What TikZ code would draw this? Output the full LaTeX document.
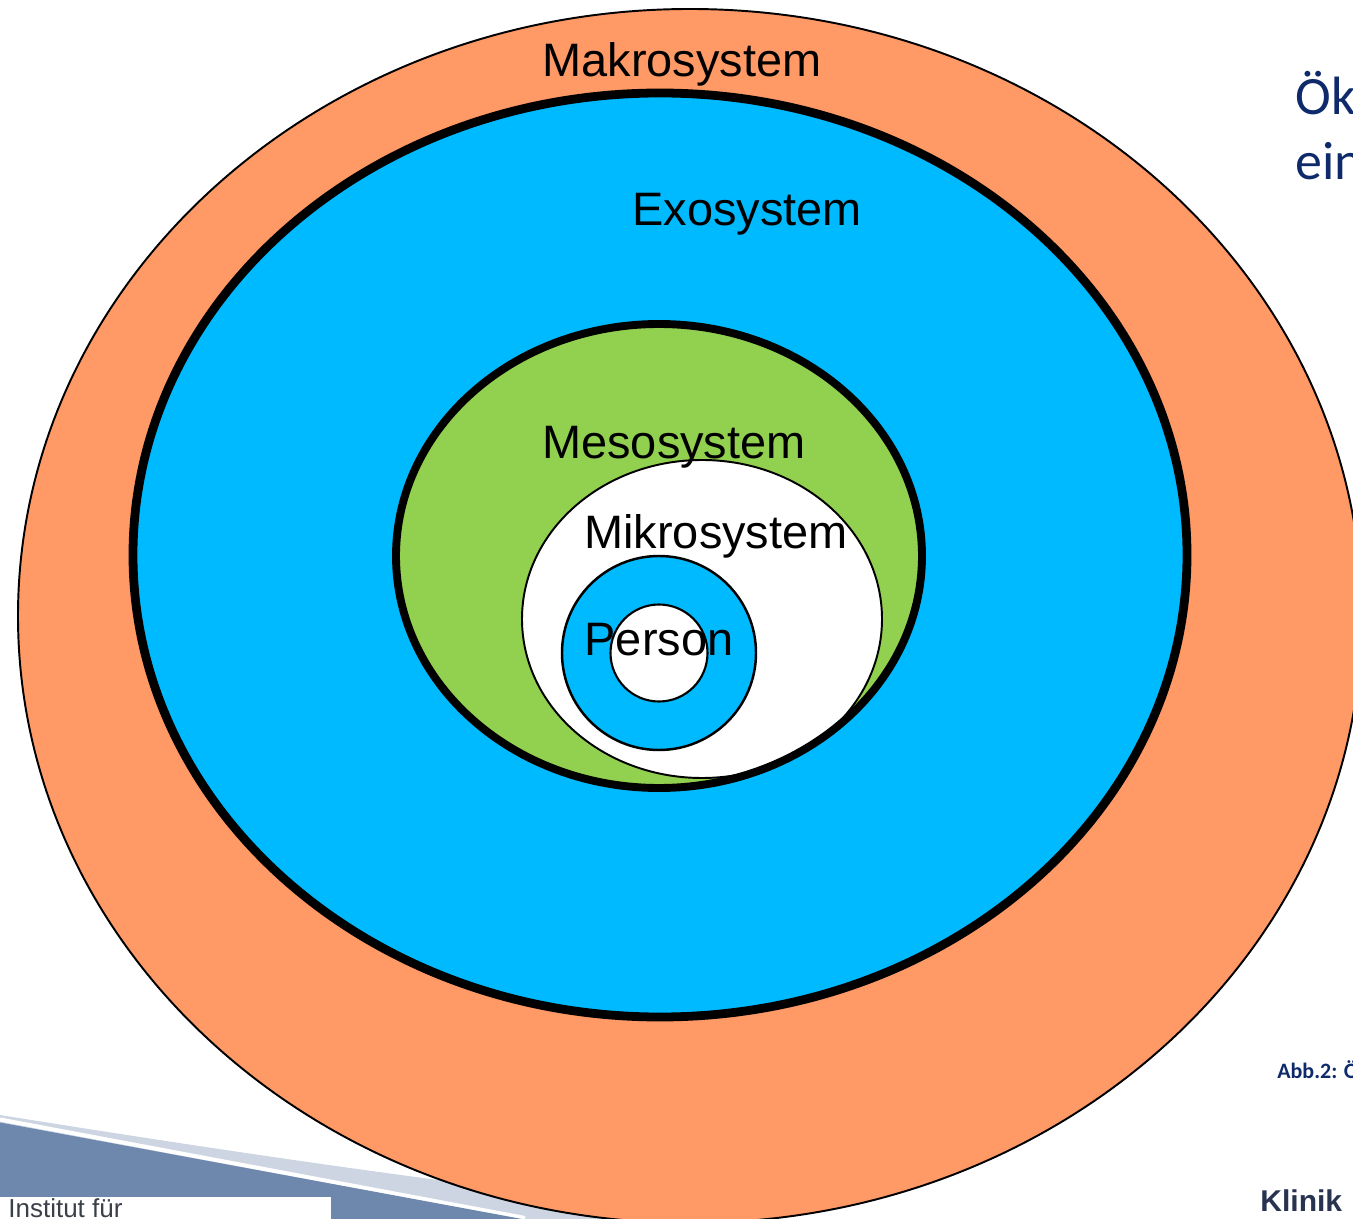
\documentclass[tikz,border=0pt]{standalone}
\usepackage{fontspec}
\setmainfont{Liberation Sans}
\newfontfamily\slidefont{Carlito}
\usepackage{tikz}
\usetikzlibrary{positioning}
\definecolor{makroOrange}{HTML}{FF9966}
\definecolor{exoBlue}{HTML}{00BAFF}
\definecolor{mesoGreen}{HTML}{92D050}
\definecolor{slideNavy}{HTML}{0F2A6B}
\definecolor{swooshDark}{HTML}{6E87AD}
\definecolor{swooshLight}{HTML}{CDD5E3}
\definecolor{logoSlate}{HTML}{28344F}
\definecolor{instGray}{HTML}{3B3F48}

\begin{document}
\begin{tikzpicture}[
  x=0.02cm, y=-0.02cm,
  lbl/.style={font=\fontsize{26.7}{32}\selectfont, anchor=base, inner sep=0pt},
  slidetxt/.style={anchor=base west, inner sep=0pt, text=slideNavy},
  thinrim/.style={draw=black, line width=1.1pt},
  thickrim/.style={draw=black, line width=5pt}
]
  \useasboundingbox (0,0) rectangle (1353,1219);
  \clip (0,0) rectangle (1353,1219);

  \fill[swooshLight] (0,1115) .. controls (250,1155) and (520,1195) .. (780,1219) -- (0,1219) -- cycle;
  \draw[white, line width=2.3pt] (0,1119.5) -- (525,1218);
  \fill[swooshDark] (0,1122.5) -- (522,1219) -- (0,1219) -- cycle;
  \fill[white] (0,1197) rectangle (331,1219);

  \coordinate (makroC) at (690,616);
  \coordinate (exoC) at (660,555);
  \coordinate (mesoC) at (659,556);
  \coordinate (mikroC) at (702,619);
  \coordinate (personC) at (659,653);

  \filldraw[fill=makroOrange, thinrim] (makroC) ellipse [x radius=672, y radius=607];
  \filldraw[fill=exoBlue, thickrim] (exoC) ellipse [x radius=527, y radius=462];
  \fill[mesoGreen] (mesoC) ellipse [x radius=263, y radius=232];
  \filldraw[fill=white, thinrim] (mikroC) ellipse [x radius=180, y radius=159];
  \draw[thickrim, line width=4.5pt] (mesoC) ellipse [x radius=263, y radius=232];
  \filldraw[fill=exoBlue, draw=black, line width=1.4pt] (personC) circle [radius=97];
  \filldraw[fill=white, draw=black, line width=1.2pt] (personC) circle [radius=48.5];

  \foreach \n/\x/\y/\t in {makro/682/77/Makrosystem, exo/747/226/Exosystem,
      meso/674/459/Mesosystem, mikro/716/549/Mikrosystem, person/659/656/Person}
    \node[lbl] (\n) at (\x,\y) {\t};

  \node[slidetxt, font=\slidefont\fontsize{30.7}{37}\selectfont] (oek) at (1295,115) {Ök};
  \node[slidetxt, font=\slidefont\fontsize{30.7}{37}\selectfont] (ein) at (1295,180) {ein};
  \node[slidetxt, font=\slidefont\bfseries\fontsize{12.5}{15}\selectfont] (abb) at (1277,1078) {Abb.2: Ö};
  \node[anchor=base west, inner sep=0pt, text=logoSlate, font=\bfseries\fontsize{17.1}{20}\selectfont] (klinik) at (1260,1211) {Klinik};
  \node[anchor=base west, inner sep=0pt, text=instGray, font=\fontsize{14.8}{18}\selectfont] (institut) at (8,1217) {Institut für};
\end{tikzpicture}
\end{document}
